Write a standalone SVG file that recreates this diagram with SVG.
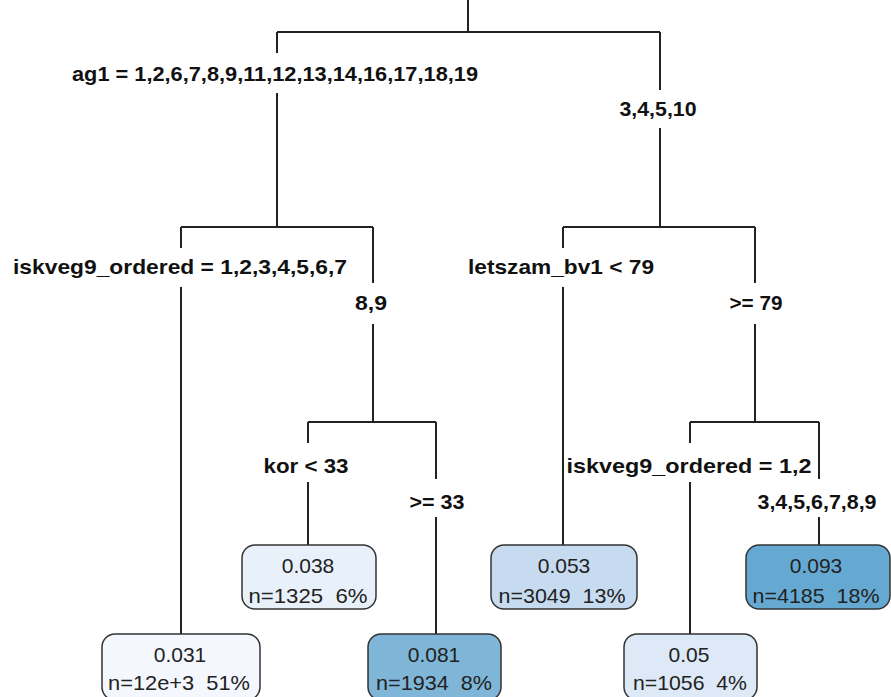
<svg xmlns="http://www.w3.org/2000/svg" width="891" height="697" viewBox="0 0 891 697">
<style>
.ln{fill:none;stroke:#222;stroke-width:2}
.lab{font-family:"Liberation Sans",Arial,sans-serif;font-weight:bold;font-size:21px;fill:#111;text-anchor:middle}
.box{stroke:#333;stroke-width:1.5}
.lt{font-family:"Liberation Sans",Arial,sans-serif;font-size:21px;fill:#222;text-anchor:middle;white-space:pre}
</style>
<rect width="891" height="697" fill="#fff"/>
<g id="connectors">
<path class="ln" d="M468,0V32M277,32H660M277,32V53M277,93V227M660,32V90M660,128V227"/>
<path class="ln" d="M181,227H373M181,227V248M181,287V634M373,227V283M373,324V422"/>
<path class="ln" d="M563,227H755M563,227V248M563,287V545M755,227V283M755,324V422"/>
<path class="ln" d="M308,422H436M308,422V443M308,482V545M436,422V479M436,517V634"/>
<path class="ln" d="M690,422H819M690,422V443M690,482V634M819,422V479M819,517V545"/>
</g>
<g id="labels">
<text class="lab" x="275" y="81" textLength="406" lengthAdjust="spacingAndGlyphs">ag1 = 1,2,6,7,8,9,11,12,13,14,16,17,18,19</text>
<text class="lab" x="658" y="116" textLength="77" lengthAdjust="spacingAndGlyphs">3,4,5,10</text>
<text class="lab" x="180" y="274" textLength="334" lengthAdjust="spacingAndGlyphs">iskveg9_ordered = 1,2,3,4,5,6,7</text>
<text class="lab" x="371" y="310" textLength="32" lengthAdjust="spacingAndGlyphs">8,9</text>
<text class="lab" x="561" y="274" textLength="186" lengthAdjust="spacingAndGlyphs">letszam_bv1 &lt; 79</text>
<text class="lab" x="756" y="310" textLength="53" lengthAdjust="spacingAndGlyphs">&gt;= 79</text>
<text class="lab" x="306" y="473" textLength="85" lengthAdjust="spacingAndGlyphs">kor &lt; 33</text>
<text class="lab" x="437" y="509" textLength="55" lengthAdjust="spacingAndGlyphs">&gt;= 33</text>
<text class="lab" x="689" y="473" textLength="245" lengthAdjust="spacingAndGlyphs">iskveg9_ordered = 1,2</text>
<text class="lab" x="817" y="509" textLength="119" lengthAdjust="spacingAndGlyphs">3,4,5,6,7,8,9</text>
</g>
<g id="leaf-0038">
<rect class="box" x="242" y="545" width="134" height="64" rx="13" fill="#E8F1FA"/>
<text class="lt" x="308" y="573">0.038</text>
<text class="lt" x="308" y="603" textLength="119" lengthAdjust="spacingAndGlyphs">n=1325  6%</text>
</g>
<g id="leaf-0053">
<rect class="box" x="491" y="545" width="146" height="64" rx="13" fill="#C6DBEF"/>
<text class="lt" x="564" y="573">0.053</text>
<text class="lt" x="562" y="603" textLength="127" lengthAdjust="spacingAndGlyphs">n=3049  13%</text>
</g>
<g id="leaf-0093">
<rect class="box" x="746" y="545" width="144" height="64" rx="13" fill="#65A9D3"/>
<text class="lt" x="816" y="573">0.093</text>
<text class="lt" x="816" y="603" textLength="127" lengthAdjust="spacingAndGlyphs">n=4185  18%</text>
</g>
<g id="leaf-0031">
<rect class="box" x="102" y="634" width="158" height="66" rx="13" fill="#F4F8FE"/>
<text class="lt" x="180" y="662">0.031</text>
<text class="lt" x="179" y="690" textLength="142" lengthAdjust="spacingAndGlyphs">n=12e+3  51%</text>
</g>
<g id="leaf-0081">
<rect class="box" x="368" y="634" width="133" height="66" rx="13" fill="#7FB6D8"/>
<text class="lt" x="434" y="662">0.081</text>
<text class="lt" x="434" y="690" textLength="116" lengthAdjust="spacingAndGlyphs">n=1934  8%</text>
</g>
<g id="leaf-005">
<rect class="box" x="624" y="634" width="133" height="66" rx="13" fill="#DDE9F6"/>
<text class="lt" x="689" y="662">0.05</text>
<text class="lt" x="690" y="690" textLength="114" lengthAdjust="spacingAndGlyphs">n=1056  4%</text>
</g>
</svg>
